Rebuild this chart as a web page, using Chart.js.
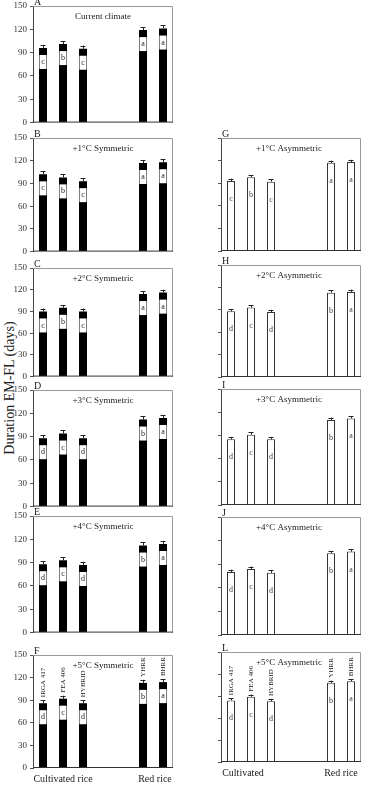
<!DOCTYPE html>
<html>
<head>
<meta charset="utf-8">
<script src="https://cdn.jsdelivr.net/npm/chart.js@4.4.1/dist/chart.umd.min.js"></script>
<style>
  body { margin:0; background:#fff; width:370px; height:785px; position:relative; overflow:hidden; font-family:"Liberation Serif", serif; }
  canvas { position:absolute; }
  #ytitle { position:absolute; left:-90px; top:380px; width:200px; text-align:center; font-size:14px; color:#222;
            transform:rotate(-90deg); transform-origin:50% 50%; white-space:nowrap; }
</style>
</head>
<body>
<div id="ytitle">Duration EM-FL (days)</div>
<script>
// slots: 3 cultivated, 2 empty, 2 red rice
var slots = ['IRGA 417', 'FEA 406', 'HYBRID', '', '', 'YHRR', 'BHRR'];
var varieties = ['IRGA 417', 'FEA 406', 'HYBRID', 'YHRR', 'BHRR'];
var groups = ['Cultivated rice', 'Red rice'];
var groupsShort = ['Cultivated', 'Red rice'];
var yTicks = [0, 30, 60, 90, 120, 150];

// symmetric scenarios (left column)
var symCurrent = [96, 101, 95, 119, 121];
var sym1 = [102, 98, 93, 117, 118];
var sym2 = [90, 95, 90, 114, 116];
var sym3 = [88, 94, 88, 112, 114];
var sym4 = [88, 93, 87, 112, 114];
var sym5 = [86, 92, 86, 113, 114];
var symErr = [4, 4, 4, 4, 4];

// asymmetric scenarios (right column)
var asym1 = [93, 98, 92, 117, 118];
var asym2 = [88, 93, 87, 113, 114];
var asym3 = [85, 91, 85, 110, 112];
var asym4 = [80, 84, 79, 104, 106];
var asym5 = [84, 89, 83, 108, 110];
var asymErr = [3, 3, 3, 3, 3];

var lettersCBC = ['c', 'b', 'c', 'a', 'a'];
var lettersDCD = ['d', 'c', 'd', 'b', 'a'];

function toSlots(arr) {
  return [arr[0], arr[1], arr[2], null, null, arr[3], arr[4]];
}

var panels = [
  {tag:'A', title:'Current climate',     vals:symCurrent, err:symErr, lets:lettersCBC, side:'L', top:6,   bottom:123},
  {tag:'B', title:'+1°C Symmetric',      vals:sym1,  err:symErr,  lets:lettersCBC, side:'L', top:138, bottom:252},
  {tag:'C', title:'+2°C Symmetric',      vals:sym2,  err:symErr,  lets:lettersCBC, side:'L', top:268, bottom:377},
  {tag:'D', title:'+3°C Symmetric',      vals:sym3,  err:symErr,  lets:lettersDCD, side:'L', top:390, bottom:507},
  {tag:'E', title:'+4°C Symmetric',      vals:sym4,  err:symErr,  lets:lettersDCD, side:'L', top:516, bottom:633},
  {tag:'F', title:'+5°C Symmetric',      vals:sym5,  err:symErr,  lets:lettersDCD, side:'L', top:655, bottom:768, names:true, groups:groups, groupAt:[1, 5.6]},
  {tag:'G', title:'+1°C Asymmetric',     vals:asym1, err:asymErr, lets:lettersCBC, side:'R', top:138, bottom:251},
  {tag:'H', title:'+2°C Asymmetric',     vals:asym2, err:asymErr, lets:lettersDCD, side:'R', top:265, bottom:377},
  {tag:'I', title:'+3°C Asymmetric',     vals:asym3, err:asymErr, lets:lettersDCD, side:'R', top:389, bottom:505},
  {tag:'J', title:'+4°C Asymmetric',     vals:asym4, err:asymErr, lets:lettersDCD, side:'R', top:517, bottom:635},
  {tag:'L', title:'+5°C Asymmetric',     vals:asym5, err:asymErr, lets:lettersDCD, side:'R', top:652, bottom:762, names:true, groups:groupsShort, groupAt:[0.6, 5.5]}
];

var SERIF = '"Liberation Serif", "Times New Roman", serif';

var panelDecor = {
  id: 'panelDecor',
  afterDatasetsDraw: function(chart) {
    var o = chart.options.plugins.panelDecor;
    var ctx = chart.ctx, a = chart.chartArea, ys = chart.scales.y, xs = chart.scales.x;
    var bars = chart.getDatasetMeta(0).data;
    var data = chart.data.datasets[0].data;
    ctx.save();
    // frame
    ctx.strokeStyle = '#999';
    ctx.lineWidth = 1;
    ctx.beginPath();
    ctx.moveTo(a.left, a.top + 0.5); ctx.lineTo(a.right - 0.5, a.top + 0.5); ctx.lineTo(a.right - 0.5, a.bottom);
    ctx.stroke();
    ctx.strokeStyle = '#333';
    ctx.beginPath();
    ctx.moveTo(a.left, a.bottom - 0.5); ctx.lineTo(a.right, a.bottom - 0.5);
    ctx.stroke();

    var k = 0;
    for (var i = 0; i < data.length; i++) {
      if (data[i] == null) continue;
      var bx = bars[i].x;
      var top = ys.getPixelForValue(data[i]);
      var e = o.err[k];
      var ey = ys.getPixelForValue(data[i] + e);
      // error bar
      ctx.strokeStyle = '#222';
      ctx.beginPath();
      ctx.moveTo(Math.round(bx) + 0.5, top); ctx.lineTo(Math.round(bx) + 0.5, ey);
      ctx.moveTo(bx - 2.5, Math.round(ey) + 0.5); ctx.lineTo(bx + 2.5, Math.round(ey) + 0.5);
      ctx.stroke();
      // significance letter
      ctx.font = '8px ' + SERIF;
      ctx.textAlign = 'center';
      ctx.textBaseline = 'middle';
      if (o.boxed) {
        ctx.fillStyle = '#fff';
        ctx.fillRect(bx - 3.5, top + 7, 7, 14);
        ctx.fillStyle = '#222';
        ctx.fillText(o.lets[k], bx, top + 14);
      } else {
        ctx.fillStyle = '#444';
        ctx.fillText(o.lets[k], bx, top + 18);
      }
      // variety names
      if (o.names) {
        ctx.save();
        ctx.translate(bx + 0.5, ey - 3);
        ctx.rotate(-Math.PI / 2);
        ctx.textAlign = 'left';
        ctx.fillStyle = '#222';
        ctx.font = '7px ' + SERIF;
        ctx.fillText(varieties[k], 0, 0);
        ctx.restore();
      }
      k++;
    }
    // title and panel tag
    ctx.fillStyle = '#222';
    ctx.font = '9px ' + SERIF;
    ctx.textAlign = 'center';
    ctx.textBaseline = 'middle';
    ctx.fillText(o.title, (a.left + a.right) / 2 + (o.boxed ? 0 : -2), a.top + 11);
    ctx.textAlign = 'left';
    ctx.textBaseline = 'bottom';
    ctx.font = '10px ' + SERIF;
    ctx.fillText(o.tag, a.left + 1, a.top + 1);
    // group labels
    if (o.groups) {
      ctx.textAlign = 'center';
      ctx.textBaseline = 'middle';
      ctx.font = '10px ' + SERIF;
      for (var g = 0; g < o.groups.length; g++) {
        ctx.fillText(o.groups[g], xs.getPixelForValue(o.groupAt[g]), a.bottom + 11);
      }
    }
    ctx.restore();
  }
};

panels.forEach(function(p) {
  var left = p.side === 'L';
  var padTop = 12, padBot = p.groups ? 20 : 8;
  var cv = document.createElement('canvas');
  var w = 180;
  var h = p.bottom - p.top + padTop + padBot;
  cv.width = w; cv.height = h;
  cv.style.left = (left ? 0 : 185) + 'px';
  cv.style.top = (p.top - padTop) + 'px';
  document.body.appendChild(cv);
  var axisW = left ? 33 : 36;
  new Chart(cv, {
    type: 'bar',
    data: {
      labels: slots,
      datasets: [{
        data: toSlots(p.vals),
        backgroundColor: left ? '#000' : '#fff',
        borderColor: left ? '#000' : '#333',
        borderWidth: left ? 0 : 1,
        barPercentage: 0.4,
        categoryPercentage: 1
      }]
    },
    options: {
      responsive: false,
      animation: false,
      layout: { padding: { top: padTop, bottom: padBot, left: 0, right: w - axisW - 140 } },
      plugins: {
        legend: { display: false },
        tooltip: { enabled: false },
        panelDecor: { title: p.title, tag: p.tag, err: p.err, lets: p.lets, boxed: left,
                      names: p.names, groups: p.groups, groupAt: p.groupAt }
      },
      scales: {
        x: { display: false },
        y: {
          min: 0, max: 150,
          afterBuildTicks: function(s) { s.ticks = yTicks.map(function(v) { return {value: v}; }); },
          afterFit: function(s) { s.width = axisW; },
          ticks: { display: left, color: '#333', padding: 3, font: { family: SERIF, size: 9 } },
          grid: { drawOnChartArea: false, tickLength: 3, color: '#555' },
          border: { color: '#444' }
        }
      }
    },
    plugins: [panelDecor]
  });
});
</script>
</body>
</html>
